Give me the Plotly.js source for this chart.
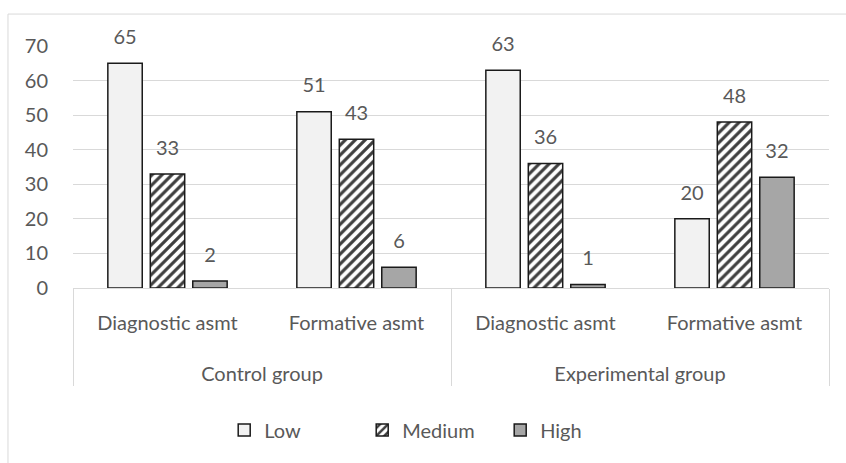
<!DOCTYPE html>
<html>
<head>
<meta charset="utf-8">
<script src="https://cdn.plot.ly/plotly-3.0.1.min.js"></script>
<style>
  html, body { margin: 0; padding: 0; background: #fff; }
  #chart { width: 846px; height: 463px; }
</style>
</head>
<body>
<div id="chart"></div>
<script>
// Assessment levels by group and assessment type
const groups = ["Control group", "Control group", "Experimental group", "Experimental group"];
const assessments = ["Diagnostic asmt", "Formative asmt", "Diagnostic asmt", "Formative asmt"];
const seriesNames = ["Low", "Medium", "High"];
const lowValues = [65, 51, 63, 20];
const mediumValues = [33, 43, 36, 48];
const highValues = [2, 6, 1, 32];
const yTicks = [0, 10, 20, 30, 40, 50, 60, 70];

const textColor = "#595959";
const gridColor = "#d9d9d9";
const fontFamily = "Lato, 'Open Sans', sans-serif";

// inner labels get a tall blank second line so the group row sits lower
const innerLabels = assessments.map(a => a + "<br><span style='font-size:55px'>&nbsp;</span>");

// Value label (20px) with a short blank line under it to lift it off the bar
function labels(vals) {
  return vals.map(v => "<span style='font-size:20px'>" + v + "</span><br>&nbsp;");
}

function barTrace(name, values, marker) {
  return {
    type: "bar",
    name: name,
    x: [groups, innerLabels],
    y: values,
    text: labels(values),
    textposition: "outside",
    cliponaxis: false,
    textfont: { family: fontFamily, size: 11, color: textColor },
    hoverinfo: "y",
    marker: marker
  };
}

const traces = [
  barTrace(seriesNames[0], lowValues, {
    color: "#f2f2f2",
    line: { color: "#1a1a1a", width: 1.5 }
  }),
  barTrace(seriesNames[1], mediumValues, {
    color: "#ffffff",
    pattern: { shape: "/", fgcolor: "#3f3f3f", bgcolor: "#ffffff", size: 7, solidity: 0.45 },
    line: { color: "#1a1a1a", width: 1.5 }
  }),
  barTrace(seriesNames[2], highValues, {
    color: "#a6a6a6",
    line: { color: "#1a1a1a", width: 1.5 }
  })
];

const layout = {
  width: 846,
  height: 463,
  paper_bgcolor: "#ffffff",
  plot_bgcolor: "#ffffff",
  margin: { l: 73, r: 17, t: 46, b: 175 },
  font: { family: fontFamily, size: 20, color: textColor },
  barmode: "group",
  bargap: 0.326,
  bargroupgap: 0.19,
  showlegend: true,
  legend: {
    orientation: "h",
    x: 0.2,
    xanchor: "left",
    y: -0.587,
    yanchor: "middle",
    entrywidth: 93,
    font: { family: fontFamily, size: 20, color: textColor },
    itemclick: false
  },
  xaxis: {
    type: "multicategory",
    showline: true,
    linecolor: gridColor,
    linewidth: 1,
    showgrid: false,
    showdividers: true,
    dividercolor: gridColor,
    dividerwidth: 1,
    tickfont: { family: fontFamily, size: 20, color: textColor },
    ticks: "",
    ticklabelstandoff: 17
  },
  yaxis: {
    range: [0, 70],
    tickvals: yTicks,
    showgrid: true,
    gridcolor: gridColor,
    gridwidth: 1,
    zeroline: false,
    showline: false,
    ticks: "outside",
    ticklen: 20,
    tickcolor: "rgba(0,0,0,0)",
    tickfont: { family: fontFamily, size: 20, color: textColor }
  },
  shapes: [
    // light chart-area frame (top and left edges)
    { type: "line", xref: "paper", yref: "paper",
      x0: -0.086, x1: 1.03, y0: 1.132, y1: 1.132,
      line: { color: gridColor, width: 1 } },
    { type: "line", xref: "paper", yref: "paper",
      x0: -0.086, x1: -0.086, y0: 1.132, y1: -0.76,
      line: { color: gridColor, width: 1 } }
  ]
};

Plotly.newPlot("chart", traces, layout, { displayModeBar: false, staticPlot: true });
</script>
</body>
</html>
